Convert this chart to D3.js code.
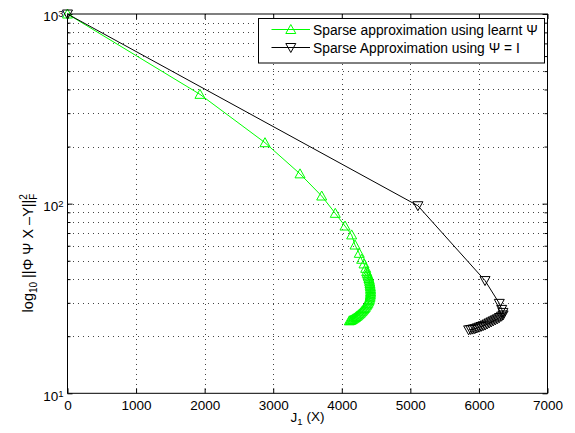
<!DOCTYPE html>
<html>
<head>
<meta charset="utf-8">
<script src="https://cdn.jsdelivr.net/npm/d3@7"></script>
<style>
  html, body { margin: 0; padding: 0; background: #fff; }
  svg { display: block; }
  text { font-family: "Liberation Sans", Arial, Helvetica, sans-serif; }
</style>
</head>
<body>
<svg id="chart" width="575" height="433"></svg>
<script>
// ---------------- data ----------------
const xTicks = [0, 1000, 2000, 3000, 4000, 5000, 6000, 7000];
const yMajorTicks = [10, 100, 1000];
const yMinorTicks = [20, 30, 40, 50, 60, 70, 80, 90, 200, 300, 400, 500, 600, 700, 800, 900];

const seriesNames = ["Sparse approximation using learnt \u03A8", "Sparse Approximation using \u03A8 = I"];

// Sparse approximation using learnt Psi
const learntX = [0, 1932, 2880, 3391, 3707, 3905, 4047, 4144, 4193, 4255, 4290, 4324, 4349, 4363,
  4372, 4381, 4389, 4396, 4402, 4407, 4411, 4414, 4417, 4419, 4420, 4420, 4419, 4417, 4414, 4410,
  4404, 4397, 4389, 4379, 4368, 4356, 4343, 4330, 4316, 4302, 4288, 4273, 4258, 4243, 4228, 4213,
  4198, 4183, 4168, 4153, 4138, 4124, 4110];
const learntY = [1000, 377, 209.6, 143.6, 109.7, 88.9, 76.2, 68.4, 60.5, 54.7, 50.9, 48.1, 45.6, 43.8,
  42.9, 42.0, 41.1, 40.3, 39.5, 38.7, 37.9, 37.1, 36.4, 35.7, 35.0, 34.3, 33.7, 33.1, 32.5, 31.9,
  31.3, 30.8, 30.3, 29.8, 29.3, 28.9, 28.4, 28.0, 27.6, 27.2, 26.9, 26.5, 26.2, 25.9, 25.6, 25.4,
  25.1, 24.9, 24.7, 24.5, 24.3, 24.2, 24.1];

// Sparse approximation using Psi = I
const identX = [0, 5110, 6089, 6297, 6332, 6350, 6352, 6330, 6300, 6270, 6240, 6210, 6180, 6150,
  6120, 6090, 6060, 6030, 6000, 5970, 5940, 5910, 5880, 5850];
const identY = [1000, 97.5, 39.3, 29.8, 27.7, 26.7, 25.9, 25.5, 25.1, 24.7, 24.4, 24.1, 23.8, 23.5,
  23.2, 22.9, 22.7, 22.5, 22.3, 22.1, 21.9, 21.8, 21.7, 21.6];

// ---------------- layout ----------------
const W = 575, H = 433;
const pLeft = 67.5, pRight = 547.5, pTop = 14, pBottom = 393.3;
const FONT = 13.5;

const svg = d3.select("#chart");
svg.append("rect").attr("width", W).attr("height", H).attr("fill", "#fff");

const x = d3.scaleLinear().domain([0, 7000]).range([pLeft, pRight]);
const y = d3.scaleLog().domain([10, 1000]).range([pBottom, pTop]);

// ---------------- grid ----------------
const grid = svg.append("g").attr("stroke", "#444").attr("stroke-width", 1)
  .attr("stroke-dasharray", "1,4").attr("shape-rendering", "crispEdges");
grid.selectAll("line.vx").data(xTicks.slice(1, -1)).join("line")
  .attr("x1", d => Math.round(x(d)) + 0.5).attr("x2", d => Math.round(x(d)) + 0.5)
  .attr("y1", pTop).attr("y2", pBottom);
grid.selectAll("line.hy").data(yMinorTicks.concat([100])).join("line")
  .attr("y1", d => Math.round(y(d)) + 0.5).attr("y2", d => Math.round(y(d)) + 0.5)
  .attr("x1", pLeft).attr("x2", pRight);

// ---------------- axes ----------------
function styleAxis(g) {
  g.select(".domain").remove();
  g.selectAll(".tick line").attr("stroke", "#000").attr("stroke-width", 1);
  g.selectAll(".tick text").attr("font-size", FONT + "px").attr("fill", "#000")
    .attr("font-family", '"Liberation Sans", Arial, sans-serif');
}

svg.append("g").attr("transform", `translate(0,${pBottom})`)
  .call(d3.axisBottom(x).tickValues(xTicks).tickSizeInner(-5).tickSizeOuter(0).tickPadding(7.5)
    .tickFormat(d3.format("d")))
  .call(styleAxis);
svg.append("g").attr("transform", `translate(0,${pTop})`)
  .call(d3.axisTop(x).tickValues(xTicks).tickSizeInner(-5).tickSizeOuter(0).tickFormat(""))
  .call(styleAxis);

const yLeft = svg.append("g").attr("transform", `translate(${pLeft},0)`)
  .call(d3.axisLeft(y).tickValues(yMajorTicks).tickSizeInner(-5).tickSizeOuter(0).tickPadding(4)
    .tickFormat(() => "10"))
  .call(styleAxis);
yLeft.selectAll(".tick text").attr("dy", "0.5em").each(function(d) {
  d3.select(this).append("tspan").attr("dy", "-0.42em").attr("font-size", "9.5px")
    .text(Math.round(Math.log10(d)));
});
svg.append("g").attr("transform", `translate(${pLeft},0)`)
  .call(d3.axisLeft(y).tickValues(yMinorTicks).tickSizeInner(-3).tickSizeOuter(0).tickFormat(""))
  .call(styleAxis);
svg.append("g").attr("transform", `translate(${pRight},0)`)
  .call(d3.axisRight(y).tickValues(yMajorTicks).tickSizeInner(-5).tickSizeOuter(0).tickFormat(""))
  .call(styleAxis);
svg.append("g").attr("transform", `translate(${pRight},0)`)
  .call(d3.axisRight(y).tickValues(yMinorTicks).tickSizeInner(-3).tickSizeOuter(0).tickFormat(""))
  .call(styleAxis);

// axes box
svg.append("rect").attr("x", pLeft).attr("y", pTop).attr("width", pRight - pLeft).attr("height", pBottom - pTop)
  .attr("fill", "none").attr("stroke", "#000").attr("stroke-width", 1);

// ---------------- series ----------------
const upTri = "M0,-5L5,4L-5,4Z";
const downTri = "M0,5L5,-4L-5,-4Z";

function drawSeries(xs, ys, color, marker) {
  const pts = xs.map((v, i) => [v, ys[i]]);
  const line = d3.line().x(d => x(d[0])).y(d => y(d[1]));
  svg.append("path").datum(pts).attr("d", line).attr("fill", "none")
    .attr("stroke", color).attr("stroke-width", 1);
  svg.append("g").selectAll("path").data(pts).join("path")
    .attr("transform", d => `translate(${x(d[0])},${y(d[1])})`)
    .attr("d", marker).attr("fill", "none").attr("stroke", color).attr("stroke-width", 1);
}
drawSeries(learntX, learntY, "#00ff00", upTri);
drawSeries(identX, identY, "#000000", downTri);

// ---------------- legend ----------------
const lg = svg.append("g");
lg.append("rect").attr("x", 258.5).attr("y", 18.5).attr("width", 286).attr("height", 44.5)
  .attr("fill", "#fff").attr("stroke", "#000").attr("stroke-width", 1);
const legendRows = [
  { name: seriesNames[0], color: "#00ff00", marker: upTri, cy: 29.5 },
  { name: seriesNames[1], color: "#000000", marker: downTri, cy: 47.5 }
];
legendRows.forEach(r => {
  lg.append("line").attr("x1", 271.5).attr("x2", 310).attr("y1", r.cy).attr("y2", r.cy)
    .attr("stroke", r.color).attr("stroke-width", 1);
  lg.append("path").attr("transform", `translate(290.8,${r.cy})`).attr("d", r.marker)
    .attr("fill", "none").attr("stroke", r.color).attr("stroke-width", 1);
  lg.append("text").attr("x", 313).attr("y", r.cy + 5).attr("font-size", "13.8px").attr("fill", "#000")
    .text(r.name);
});

// ---------------- axis labels ----------------
const xl = svg.append("text").attr("x", (pLeft + pRight) / 2).attr("y", 422)
  .attr("text-anchor", "middle").attr("font-size", FONT + "px").attr("fill", "#000");
xl.append("tspan").text("J");
xl.append("tspan").attr("dy", "0.35em").attr("font-size", "9.5px").text("1");
xl.append("tspan").attr("dy", "-0.35em").text(" (X)");

const yl = svg.append("text").attr("transform", "translate(33,253) rotate(-90)")
  .attr("text-anchor", "middle").attr("font-size", "14.5px").attr("fill", "#000");
yl.append("tspan").text("log");
yl.append("tspan").attr("dy", "4").attr("font-size", "10px").text("10");
yl.append("tspan").attr("dy", "-4").text(" ||\u03A6  \u03A8  X  \u2013Y||");
yl.append("tspan").attr("dy", "-6").attr("font-size", "10px").text("2");
yl.append("tspan").attr("dx", "-5.6").attr("dy", "10").attr("font-size", "10px").text("F");
</script>
</body>
</html>
